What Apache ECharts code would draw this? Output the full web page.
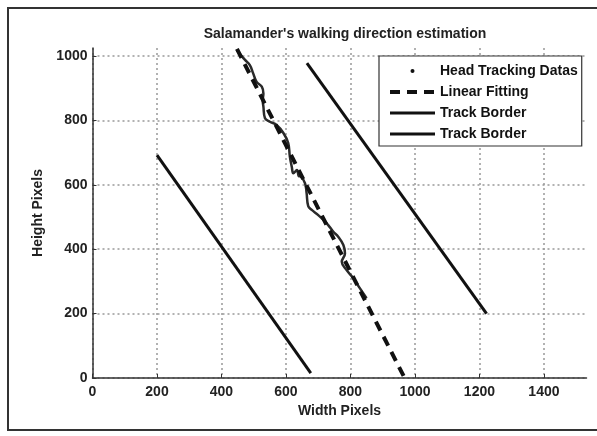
<!DOCTYPE html>
<html><head><meta charset="utf-8">
<script src="https://cdn.jsdelivr.net/npm/echarts@6/dist/echarts.min.js"></script>
<style>html,body{margin:0;padding:0;background:#fff}#c{width:597px;height:436px}</style>
</head><body><div id="c"></div>
<script>
const titleText = "Salamander's walking direction estimation";
const xName = "Width Pixels";
const yName = "Height Pixels";
const xTicks = [0, 200, 400, 600, 800, 1000, 1200, 1400];
const yTicks = [0, 200, 400, 600, 800, 1000];
const headTracking = [
  [447,1019],[460,1003],[473,988],[488,972],[498,947],[509,920],[525,905],[530,884],
  [528,862],[530,843],[535,807],[550,796],[571,786],[592,761],[607,730],[612,688],
  [618,656],[623,636],[634,646],[640,627],[643,627],[659,605],[664,574],[669,534],
  [680,522],[700,506],[716,491],[731,475],[747,454],[762,439],[778,413],[783,387],
  [773,361],[788,335],[809,310],[829,279],[850,248]
];
const linearFit = [[448,1022],[968,0]];
const borderLeft = [[200,692],[677,15]];
const borderRight = [[665,978],[1222,200]];

const font = 'Liberation Sans, Arial, sans-serif';
const chart = echarts.init(document.getElementById('c'), null, {renderer:'canvas'});
chart.setOption({
  animation:false,
  backgroundColor:'#fff',
  title:{text:titleText,left:340,top:22,textAlign:'center',
    textStyle:{fontFamily:font,fontSize:14,fontWeight:'bold',color:'#222'}},
  graphic:[{type:'rect',shape:{x:8,y:8,width:640,height:422},
    style:{fill:'none',stroke:'#333',lineWidth:2},silent:true,z:-1}],
  grid:{left:92.5,right:10.5,top:48,bottom:58,containLabel:false},
  legend:{
    orient:'vertical',left:379,top:56,
    backgroundColor:'#fff',borderColor:'#333',borderWidth:1.2,
    padding:[8,4,5,9],itemGap:7,itemWidth:45,itemHeight:4,
    textStyle:{fontFamily:font,fontSize:14,fontWeight:'bold',color:'#111'},
    lineStyle:{width:'inherit'},
    formatter:function(n){return n.trim();},
    data:[
      {name:'Head Tracking Datas',icon:'circle',itemStyle:{color:'#111'}},
      {name:'Linear Fitting',itemStyle:{opacity:0}},
      {name:'Track Border',itemStyle:{opacity:0}},
      {name:'Track Border ',itemStyle:{opacity:0}}
    ]
  },
  xAxis:{type:'value',min:0,max:1532,interval:200,
    axisLine:{lineStyle:{color:'#333',width:1.5}},
    axisTick:{inside:true,length:4,lineStyle:{color:'#333'}},
    axisLabel:{fontFamily:font,fontSize:14,fontWeight:'bold',color:'#222',margin:7,showMaxLabel:false,
      formatter:function(v){return String(v);}},
    splitLine:{show:true,showMaxLine:false,lineStyle:{type:[2,3],color:'#999',width:1.5}},
    name:xName,nameLocation:'middle',nameGap:26,
    nameTextStyle:{fontFamily:font,fontSize:14,fontWeight:'bold',color:'#222'}
  },
  yAxis:{type:'value',min:0,max:1025,interval:200,
    axisLine:{show:true,lineStyle:{color:'#333',width:1.5}},
    axisTick:{show:true,inside:true,length:4,lineStyle:{color:'#333'}},
    axisLabel:{fontFamily:font,fontSize:14,fontWeight:'bold',color:'#222',margin:5,showMaxLabel:false,
      formatter:function(v){return String(v);}},
    splitLine:{show:true,showMaxLine:false,lineStyle:{type:[2,3],color:'#999',width:1.5}},
    name:yName,nameLocation:'middle',nameGap:37,
    nameTextStyle:{fontFamily:font,fontSize:14,fontWeight:'bold',color:'#222'}
  },
  series:[
    {name:'Head Tracking Datas',type:'line',data:headTracking,symbol:'none',smooth:0.4,
      lineStyle:{color:'#2a2a2a',width:2.5},itemStyle:{color:'#111'},z:2},
    {name:'Linear Fitting',type:'line',data:linearFit,symbol:'none',
      lineStyle:{color:'#111',width:4,type:[10,7]},itemStyle:{color:'#111'},z:3},
    {name:'Track Border',type:'line',data:borderLeft,symbol:'none',
      lineStyle:{color:'#111',width:3},itemStyle:{color:'#111'},z:2},
    {name:'Track Border ',type:'line',data:borderRight,symbol:'none',
      lineStyle:{color:'#111',width:3},itemStyle:{color:'#111'},z:2}
  ]
});
</script></body></html>
